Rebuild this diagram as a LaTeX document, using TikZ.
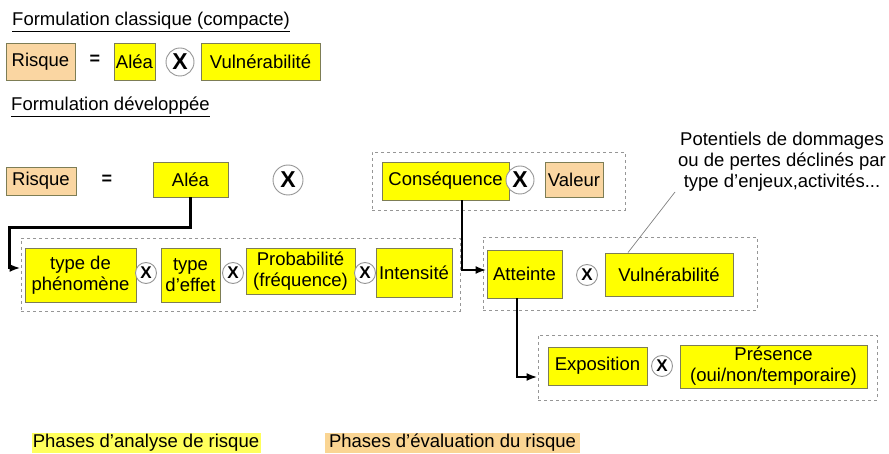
\documentclass[tikz,border=0pt]{standalone}
\usepackage{fontspec}
\setmainfont{Liberation Sans}
\usetikzlibrary{arrows.meta}
\definecolor{yel}{HTML}{FFFF00}
\definecolor{peach}{HTML}{FAD6A2}
\definecolor{bord}{RGB}{125,125,85}
\definecolor{dashc}{RGB}{150,150,150}
\definecolor{legy}{HTML}{FFFF5C}
\definecolor{lego}{HTML}{FAD593}
\begin{document}
\begin{tikzpicture}[x=1pt,y=-1pt,
  every node/.style={font=\fontsize{18.5}{21}\selectfont, inner sep=0pt, align=center},
  ybox/.style={draw=bord, line width=0.9pt, fill=yel},
  obox/.style={draw=bord, line width=0.9pt, fill=peach},
  xbig/.style={circle, draw=dashc, fill=white, line width=0.9pt, minimum size=28pt, font=\fontsize{23}{23}\selectfont\bfseries},
  xsmall/.style={circle, draw=dashc, fill=white, line width=0.9pt, minimum size=21pt, font=\fontsize{17}{17}\selectfont\bfseries},
  grp/.style={draw=dashc, dashed, line width=0.9pt},
  conn/.style={line width=2.6pt, -{Latex[length=11pt,width=8pt]}},
  noteline/.style={draw=gray, line width=0.7pt},
]
\useasboundingbox (0,0) rectangle (889,454);

% titles
\node[anchor=west] (t1) at (12,22) {\underline{Formulation classique (compacte)}};
\node[anchor=west] (t2) at (11,107) {\underline{Formulation développée}};

% row 1
\node[obox, minimum width=69pt, minimum height=37pt] (r1risk) at (40.5,61.5) {Risque};
\node[font=\fontsize{18}{18}\selectfont\bfseries] (eq1) at (95,60) {=};
\node[ybox, minimum width=41pt, minimum height=37pt] (r1alea) at (134.5,61.5) {Aléa};
\node[xbig] (x1) at (180,62) {X};
\node[ybox, minimum width=119pt, minimum height=37pt] (r1vul) at (260.5,61.5) {Vulnérabilité};

% row 2
\node[obox, minimum width=70pt, minimum height=28pt] (r2risk) at (41,181) {Risque};
\node[font=\fontsize{18}{18}\selectfont\bfseries] (eq2) at (107,180) {=};
\node[ybox, minimum width=75pt, minimum height=35pt] (alea) at (190.5,179.5) {Aléa};
\node[xbig, minimum size=30pt] (x2) at (288,180) {X};
\node[grp, minimum width=253pt, minimum height=58pt] (dA) at (498.5,181) {};
\node[ybox, minimum width=127pt, minimum height=38pt] (cons) at (445.5,181) {Conséquence};
\node[xbig] (x3) at (520,180) {X};
\node[obox, minimum width=58pt, minimum height=35pt] (val) at (574,179.5) {Valeur};

% note
\node (note) at (782,162) {Potentiels de dommages\\ou de pertes déclinés par\\type d’enjeux,activités...};
\coordinate (noteend) at (675,192);

% row 3 left group
\node[grp, minimum width=439pt, minimum height=73pt] (dB) at (240.5,274.5) {};
\node[ybox, minimum width=111pt, minimum height=54pt] (tp) at (80.5,275) {type de\\phénomène};
\node[xsmall] (xa) at (146,273) {X};
\node[ybox, minimum width=59pt, minimum height=54pt] (te) at (190.5,275) {type\\d’effet};
\node[xsmall] (xb) at (233,273) {X};
\node[ybox, minimum width=109pt, minimum height=46pt] (prob) at (300.5,271) {Probabilité\\(fréquence)};
\node[xsmall] (xc) at (365,273) {X};
\node[ybox, minimum width=76pt, minimum height=49pt] (int) at (414,272.5) {Intensité};

% row 3 right group
\node[grp, minimum width=274pt, minimum height=73pt] (dC) at (620,273.5) {};
\node[ybox, minimum width=75pt, minimum height=48pt] (att) at (524.5,274) {Atteinte};
\node[xsmall] (xd) at (587,275) {X};
\node[ybox, minimum width=128pt, minimum height=43pt] (vul2) at (669,274.5) {Vulnérabilité};

% row 4
\node[grp, minimum width=339pt, minimum height=65pt] (dD) at (707.5,367.5) {};
\node[ybox, minimum width=99pt, minimum height=38pt] (expo) at (597.5,366) {Exposition};
\node[xsmall] (xe) at (662,366) {X};
\node[ybox, minimum width=187pt, minimum height=43pt] (pres) at (773.5,366.5) {Présence\\(oui/non/temporaire)};

% connectors
\draw[conn] (alea.south) -- ++(0,30) -| ([xshift=-11pt,yshift=6.5pt]dB.west) -- ([yshift=6.5pt]dB.west);
\draw[conn] ([xshift=16.5pt]cons.south) |- ([yshift=4pt]att.west);
\draw[conn] ([xshift=-7.5pt]att.south) |- ([yshift=-9.5pt]dD.west);
\draw[noteline] ([xshift=-41pt]vul2.north) -- (noteend);

% legend
\node[fill=legy, minimum width=229pt, minimum height=20pt] (legA) at (146,442.5) {Phases d’analyse de risque};
\node[fill=lego, minimum width=255pt, minimum height=20pt] (legB) at (452.5,442.5) {Phases d’évaluation du risque};
\end{tikzpicture}
\end{document}
